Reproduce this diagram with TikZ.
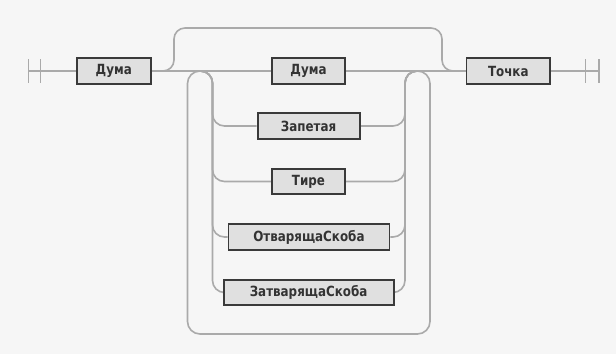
\documentclass[tikz,border=0pt]{standalone}
\usepackage{fontspec}
\newfontfamily\rrfont{DejaVu Sans}[FakeStretch=0.85]
\definecolor{bg}{HTML}{F6F6F6}
\definecolor{rail}{HTML}{AAAAAA}
\definecolor{boxfill}{HTML}{E0E0E0}
\definecolor{boxline}{HTML}{3A3A3A}
\definecolor{txt}{HTML}{333333}
\pgfdeclarelayer{bglayer}
\pgfdeclarelayer{raillayer}
\pgfsetlayers{bglayer,raillayer,main}
\begin{document}
\begin{tikzpicture}[x=1pt,y=-1pt,
  term/.style={draw=boxline, fill=boxfill, line width=1.8pt, minimum height=25.5pt,
    inner sep=0pt, font=\rrfont\bfseries\fontsize{14}{14}\selectfont, text=txt},
  railline/.style={draw=rail, line width=1.6pt, rounded corners=12pt},
  barline/.style={draw=rail, line width=1.6pt}]
\begin{pgfonlayer}{bglayer}
\fill[bg] (0,0) rectangle (616,354);
\end{pgfonlayer}
\useasboundingbox (0,0) rectangle (616,354);
% terminals
\node[term, minimum width=74pt] (d1) at (113.8,71) {Дума};
\node[term, minimum width=73.5pt] (d2) at (308.5,71) {Дума};
\node[term, minimum width=102pt] (zap) at (308.6,126) {Запетая};
\node[term, minimum width=73.5pt] (tir) at (308.5,181.5) {Тире};
\node[term, minimum width=161pt] (otv) at (308.9,237) {ОтварящаСкоба};
\node[term, minimum width=170pt] (zat) at (308.6,292.5) {ЗатварящаСкоба};
\node[term, minimum width=83.5pt] (tk) at (508.3,71) {Точка};
% coordinates
\coordinate (s1) at (28.3,59);  \coordinate (s1b) at (28.3,83);
\coordinate (s2) at (40.5,59);  \coordinate (s2b) at (40.5,83);
\coordinate (sl) at (28.3,71);
\coordinate (e1) at (585.5,59); \coordinate (e1b) at (585.5,83);
\coordinate (e2) at (599,59);   \coordinate (e2b) at (599,83);
\coordinate (el) at (599,71);
\coordinate (la) at (200,71);
\coordinate (ra) at (417.5,71);
\begin{pgfonlayer}{raillayer}
% start and end bars
\draw[barline] (s1) -- (s1b);
\draw[barline] (s2) -- (s2b);
\draw[barline] (sl) -- (d1.west);
\draw[barline] (e1) -- (e1b);
\draw[barline] (e2) -- (e2b);
\draw[barline] (tk.east) -- (el);
% main line
\draw[barline] (d1.east) -- (d2.west);
\draw[barline] (d2.east) -- (tk.west);
% top bypass
\draw[railline, rounded corners=11pt] (d1.east) -- (174,71) -- (174,28) -- (442,28) -- (442,71) -- (tk.west);
% outer loop
\draw[railline, rounded corners=12.5pt] (la) -- (187.5,71) -- (187.5,334) -- (430,334) -- (430,71) -- (ra);
% choice rails and branches
\foreach \n in {zap,tir,otv,zat}{
  \draw[railline, rounded corners=12pt] (la) -- (212.5,71) -- (212.5,0 |- \n.west) -- (\n.west);
  \draw[railline, rounded corners=12pt] (ra) -- (405,71) -- (405,0 |- \n.east) -- (\n.east);
}
\end{pgfonlayer}
\end{tikzpicture}
\end{document}
